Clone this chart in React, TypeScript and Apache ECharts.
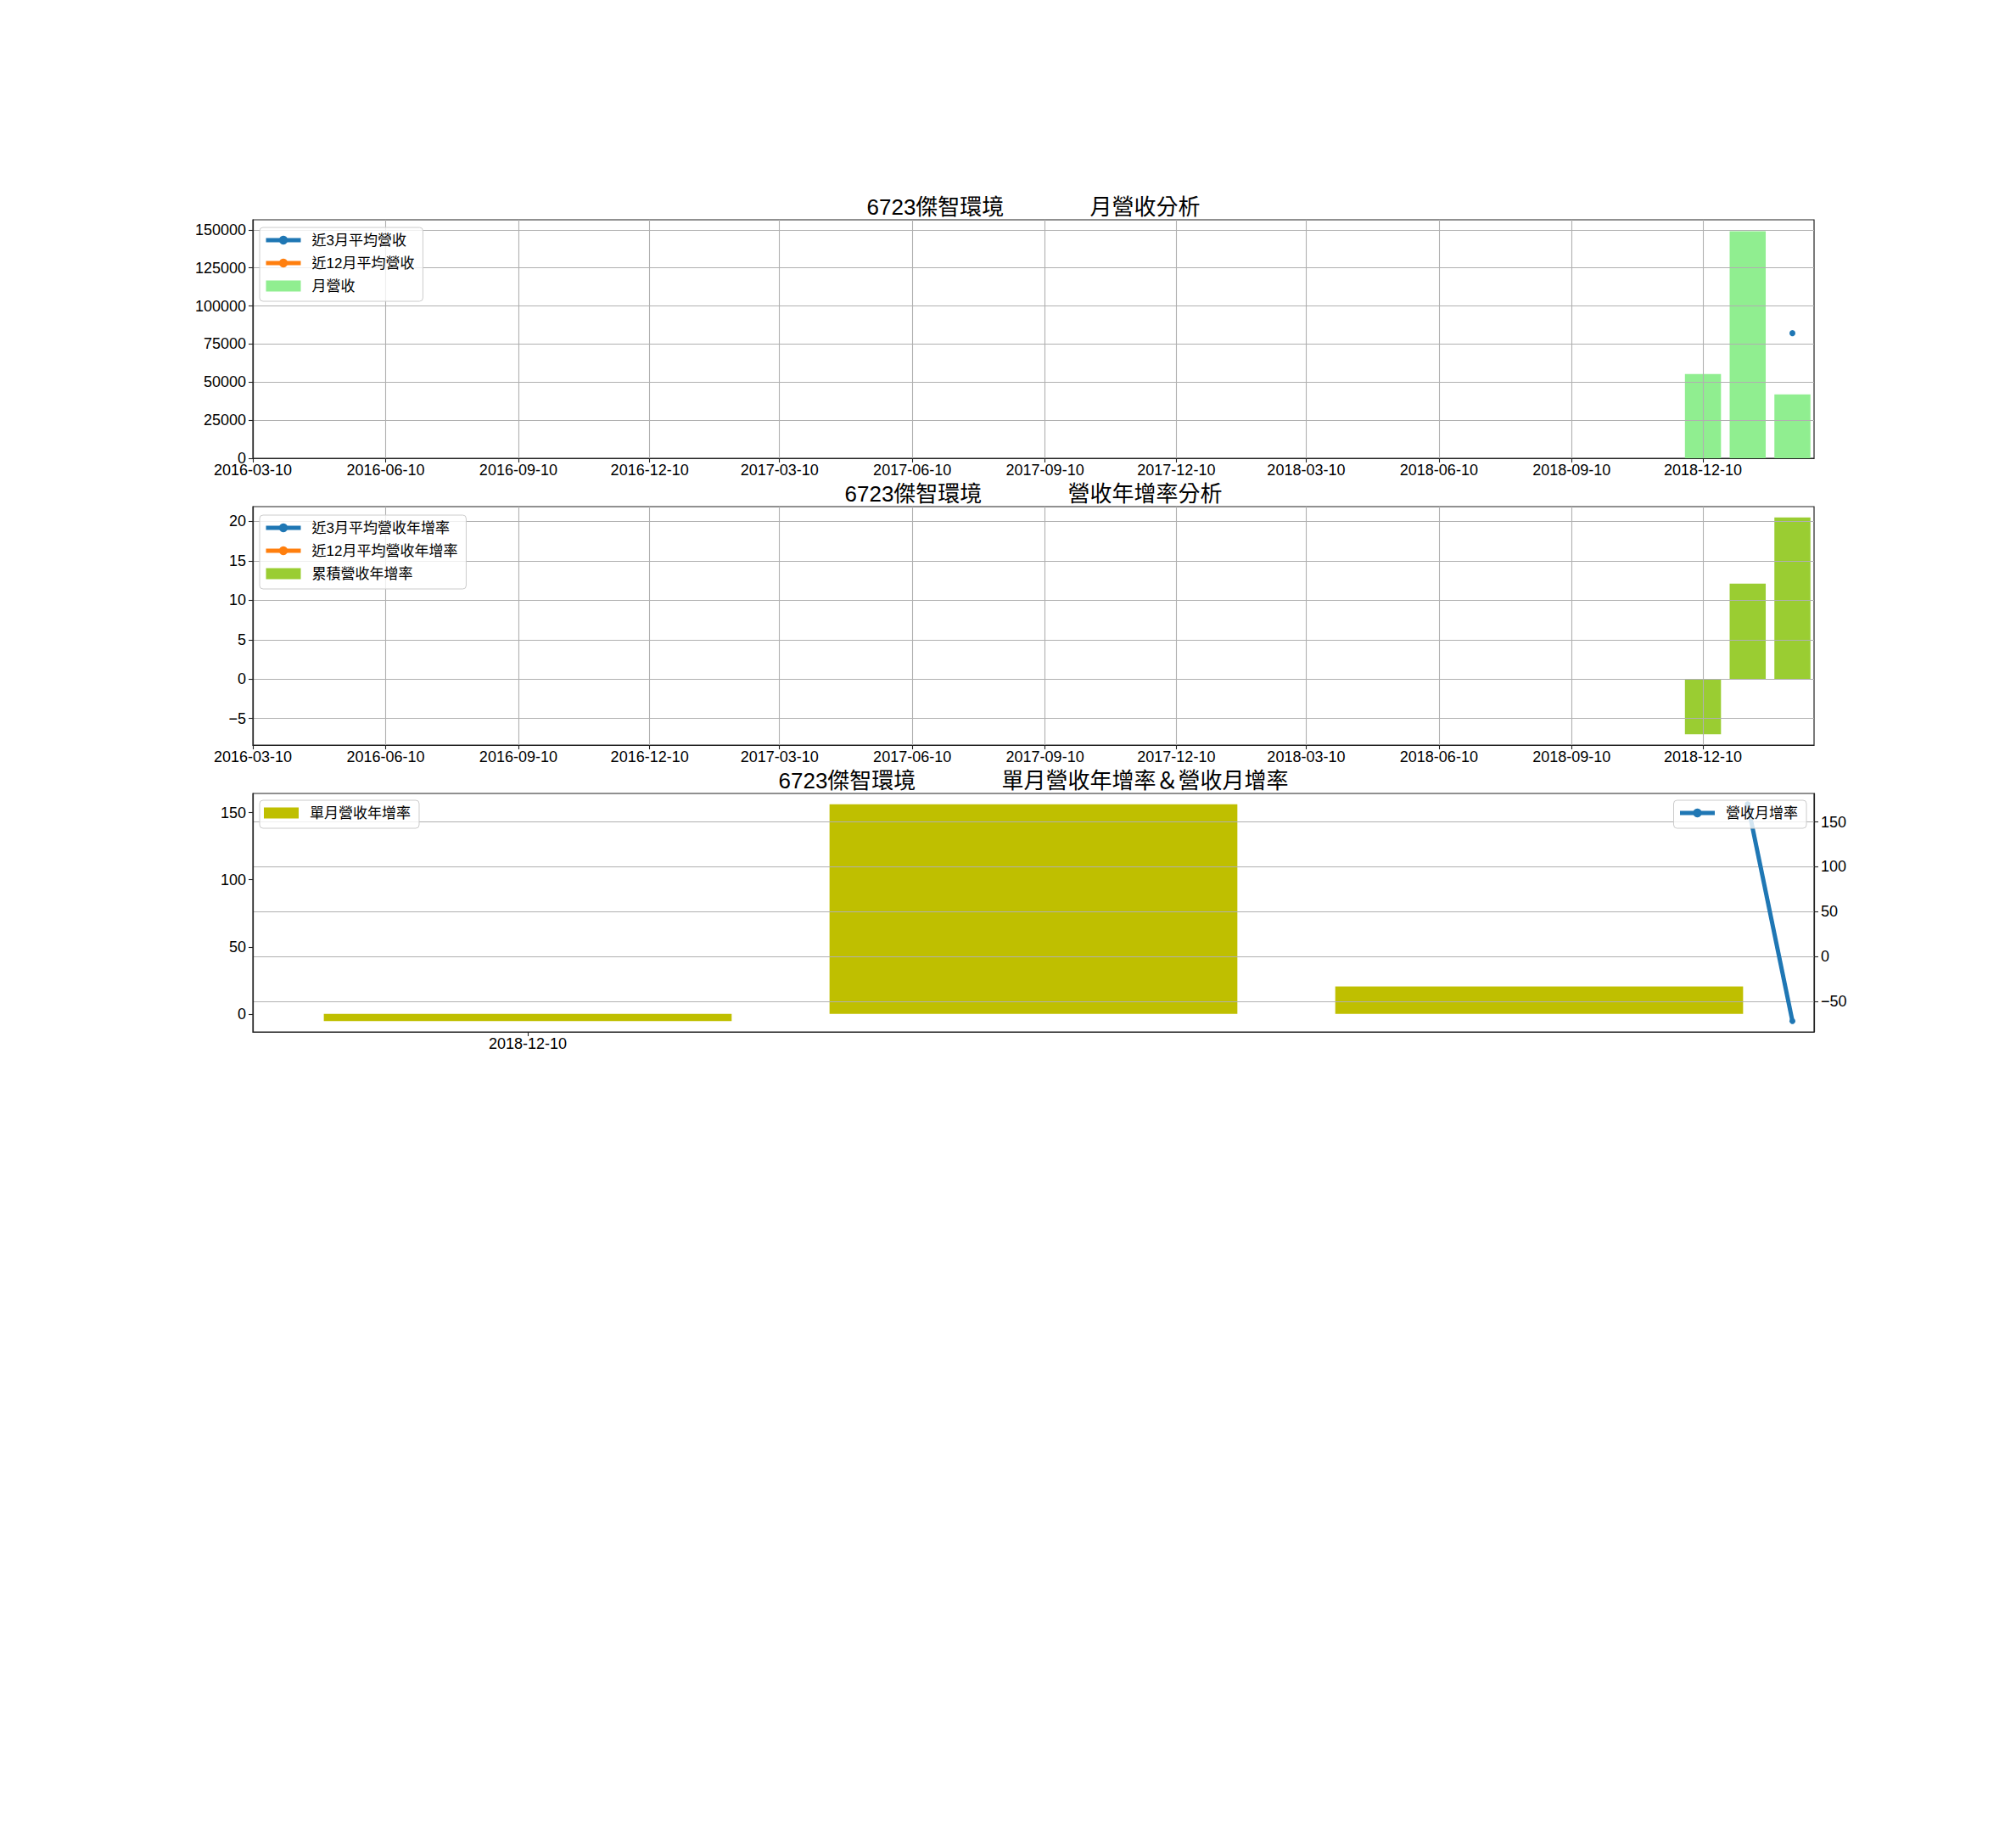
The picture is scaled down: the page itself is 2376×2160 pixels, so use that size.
import React, { useEffect, useRef } from "react";
import * as echarts from "echarts";

// ---------------- data ----------------
const stockName = "6723傑智環境";
const titleGap = "              ";
const chartTitles = ["月營收分析", "營收年增率分析", "單月營收年增率＆營收月增率"];

const monthDates = ["2018-12-10", "2019-01-10", "2019-02-10"];
const monthlyRevenue = [55300, 149100, 41900];
const avg3Revenue: (number | null)[] = [null, null, 82100];
const avg12Revenue: (number | null)[] = [null, null, null];

const cumulativeYoY = [-7.0, 12.1, 20.5];
const avg3YoY: (number | null)[] = [null, null, null];
const avg12YoY: (number | null)[] = [null, null, null];

const singleMonthYoY = [-5.3, 156.2, 20.5];
const monthOverMonth: (number | null)[] = [null, 169.6, -71.9];

const xTickLabels = [
  "2016-03-10", "2016-06-10", "2016-09-10", "2016-12-10",
  "2017-03-10", "2017-06-10", "2017-09-10", "2017-12-10",
  "2018-03-10", "2018-06-10", "2018-09-10", "2018-12-10",
];
const revenueTicks = [0, 25000, 50000, 75000, 100000, 125000, 150000];
const cumYoYTicks = [-5, 0, 5, 10, 15, 20];
const singleYoYTicks = [0, 50, 100, 150];
const momTicks = [-50, 0, 50, 100, 150];

const xRangeStart = "2016-03-10";
const xRangeEnd = "2019-02-25";
const barDays = 25;

// ---------------- helpers ----------------
const DAY = 86400000;
const toTime = (s: string) => {
  const [y, m, dd] = s.split("-").map(Number);
  return Date.UTC(y, m - 1, dd);
};
const fmtDate = (v: number) => {
  const t = new Date(v);
  const p = (n: number) => String(n).padStart(2, "0");
  return `${t.getUTCFullYear()}-${p(t.getUTCMonth() + 1)}-${p(t.getUTCDate())}`;
};
const fmtNum = (v: number) => (v < 0 ? "\u2212" + Math.abs(v) : String(v));
const pairs = (vals: (number | null)[]) =>
  monthDates
    .map((dt, i) => [toTime(dt), vals[i]] as [number, number | null])
    .filter((p) => p[1] !== null);
const padRange = (lo: number, hi: number) => {
  const m = (hi - lo) * 0.05;
  return [lo - m, hi + m];
};

const FONT = "'Liberation Sans', 'Noto Sans CJK TC', sans-serif";
const PLOT_LEFT = 298;
const PLOT_W = 1840;
const PLOT_H = 281;
const PLOT_TOPS = [259, 597, 935];
const TITLE_CX = PLOT_LEFT + PLOT_W / 2;
const BLUE = "#1f77b4";
const ORANGE = "#ff7f0e";
const SPINE = "#222222";
const GRIDC = "#b0b0b0";
const TICK_FS = 18;

const xMin = toTime(xRangeStart);
const xMax = toTime(xRangeEnd);
const tickTimes = xTickLabels.map(toTime);
const barWidthTop = ((barDays * DAY) / (xMax - xMin)) * PLOT_W;

const b3lo = toTime(monthDates[0]) - (barDays / 2) * DAY;
const b3hi = toTime(monthDates[monthDates.length - 1]) + (barDays / 2) * DAY;
const [x3Min, x3Max] = padRange(b3lo, b3hi);
const barWidthBottom = ((barDays * DAY) / (x3Max - x3Min)) * PLOT_W;
const tickTimes3 = tickTimes.filter((t) => t >= x3Min && t <= x3Max);

const revMax = Math.max(...monthlyRevenue) * 1.05;
const [cumMin, cumMax] = padRange(Math.min(...cumulativeYoY), Math.max(...cumulativeYoY));
const [singleMin, singleMax] = padRange(
  Math.min(0, ...singleMonthYoY),
  Math.max(0, ...singleMonthYoY)
);
const momVals = monthOverMonth.filter((v) => v !== null) as number[];
const [momMin, momMax] = padRange(Math.min(...momVals), Math.max(...momVals));

// ---------------- axis styles ----------------
const axisLine = { show: true, onZero: false, lineStyle: { color: SPINE, width: 1.2 } };
const tick = (vals: number[]) => ({
  show: true,
  length: 5,
  inside: false,
  customValues: vals,
  lineStyle: { color: SPINE, width: 1.1 },
});
const label = (vals: number[], formatter: (v: number) => string, margin: number) => ({
  show: true,
  customValues: vals,
  formatter,
  margin,
  fontSize: TICK_FS,
  color: "#000",
  fontFamily: FONT,
});
const grid = (show: boolean) => ({
  show,
  lineStyle: { color: GRIDC, width: 1.1, type: "solid" },
});

const dateXAxis = (gridIndex: number) => ({
  type: "value",
  gridIndex,
  min: xMin,
  max: xMax,
  z: 3,
  axisLine,
  axisTick: tick(tickTimes),
  axisLabel: label(tickTimes, fmtDate, 5),
  splitLine: grid(true),
});

const valueYAxis = (
  gridIndex: number,
  min: number,
  max: number,
  ticks: number[],
  showGrid: boolean,
  position: "left" | "right" = "left"
) => ({
  type: "value",
  gridIndex,
  position,
  min,
  max,
  z: 3,
  axisLine,
  axisTick: tick(ticks),
  axisLabel: label(ticks, fmtNum, 8),
  splitLine: grid(showGrid),
});

const legendBase = {
  orient: "vertical",
  itemWidth: 41,
  itemHeight: 13,
  itemGap: 7,
  padding: [5, 10, 8, 5],
  backgroundColor: "rgba(255,255,255,0.8)",
  borderColor: "#cccccc",
  borderWidth: 1,
  borderRadius: 4,
  z: 6,
  lineStyle: { width: 5 },
  textStyle: {
    fontSize: 17,
    lineHeight: 20,
    color: "#000",
    fontFamily: FONT,
    padding: [0, 0, 0, 8],
  },
};

const lineSeries = (name: string, color: string, data: any[], xAxisIndex: number, yAxisIndex: number) => ({
  name,
  type: "line",
  xAxisIndex,
  yAxisIndex,
  data,
  color,
  z: 4,
  symbol: "circle",
  symbolSize: 7,
  showSymbol: true,
  lineStyle: { width: 5, color },
  itemStyle: { color },
});

const barSeries = (name: string, color: string, data: any[], xAxisIndex: number, yAxisIndex: number, barWidth: number) => ({
  name,
  type: "bar",
  xAxisIndex,
  yAxisIndex,
  data,
  color,
  z: 2,
  barWidth,
  itemStyle: { color },
});

const option: any = {
  animation: false,
  backgroundColor: "#ffffff",
  textStyle: { fontFamily: FONT },
  title: chartTitles.map((t, i) => ({
    text: stockName + titleGap + t,
    left: TITLE_CX - 5,
    top: PLOT_TOPS[i] - 15 - 5,
    textAlign: "center",
    textVerticalAlign: "middle",
    textStyle: { fontSize: 26, fontWeight: "normal", color: "#000", fontFamily: FONT },
  })),
  grid: PLOT_TOPS.map((top) => ({
    left: PLOT_LEFT,
    top,
    width: PLOT_W,
    height: PLOT_H,
    show: true,
    borderColor: SPINE,
    borderWidth: 1.2,
    backgroundColor: "transparent",
    containLabel: false,
  })),
  xAxis: [
    dateXAxis(0),
    dateXAxis(1),
    {
      type: "value",
      gridIndex: 2,
      min: x3Min,
      max: x3Max,
      z: 3,
      axisLine,
      axisTick: tick(tickTimes3),
      axisLabel: label(tickTimes3, fmtDate, 5),
      splitLine: grid(false),
    },
    {
      type: "value",
      gridIndex: 2,
      min: xMin,
      max: xMax,
      show: false,
      axisLine: { show: false, onZero: false },
      splitLine: { show: false },
    },
  ],
  yAxis: [
    valueYAxis(0, 0, revMax, revenueTicks, true),
    valueYAxis(1, cumMin, cumMax, cumYoYTicks, true),
    valueYAxis(2, singleMin, singleMax, singleYoYTicks, false, "left"),
    valueYAxis(2, momMin, momMax, momTicks, true, "right"),
  ],
  legend: [
    {
      ...legendBase,
      left: 306,
      top: 268,
      data: [
        { name: "近3月平均營收" },
        { name: "近12月平均營收" },
        { name: "月營收", icon: "rect" },
      ],
    },
    {
      ...legendBase,
      left: 306,
      top: 607,
      data: [
        { name: "近3月平均營收年增率" },
        { name: "近12月平均營收年增率" },
        { name: "累積營收年增率", icon: "rect" },
      ],
    },
    {
      ...legendBase,
      left: 306,
      top: 943,
      data: [{ name: "單月營收年增率", icon: "rect" }],
    },
    {
      ...legendBase,
      right: 247,
      top: 943,
      data: [{ name: "營收月增率" }],
    },
  ],
  series: [
    lineSeries("近3月平均營收", BLUE, pairs(avg3Revenue), 0, 0),
    lineSeries("近12月平均營收", ORANGE, pairs(avg12Revenue), 0, 0),
    barSeries("月營收", "#90ee90", pairs(monthlyRevenue), 0, 0, barWidthTop),
    lineSeries("近3月平均營收年增率", BLUE, pairs(avg3YoY), 1, 1),
    lineSeries("近12月平均營收年增率", ORANGE, pairs(avg12YoY), 1, 1),
    barSeries("累積營收年增率", "#9acd32", pairs(cumulativeYoY), 1, 1, barWidthTop),
    barSeries("單月營收年增率", "#bfbf00", pairs(singleMonthYoY), 2, 2, barWidthBottom),
    lineSeries("營收月增率", BLUE, pairs(monthOverMonth), 3, 3),
  ],
};

export default function App() {
  const ref = useRef<HTMLDivElement>(null);
  useEffect(() => {
    if (!ref.current) return;
    const chart = echarts.init(ref.current, null, { renderer: "svg" });
    chart.setOption(option);
    return () => chart.dispose();
  }, []);
  return (
    <div
      ref={ref}
      style={{ position: "absolute", left: 0, top: 0, width: 2376, height: 2160, background: "#fff" }}
    />
  );
}
